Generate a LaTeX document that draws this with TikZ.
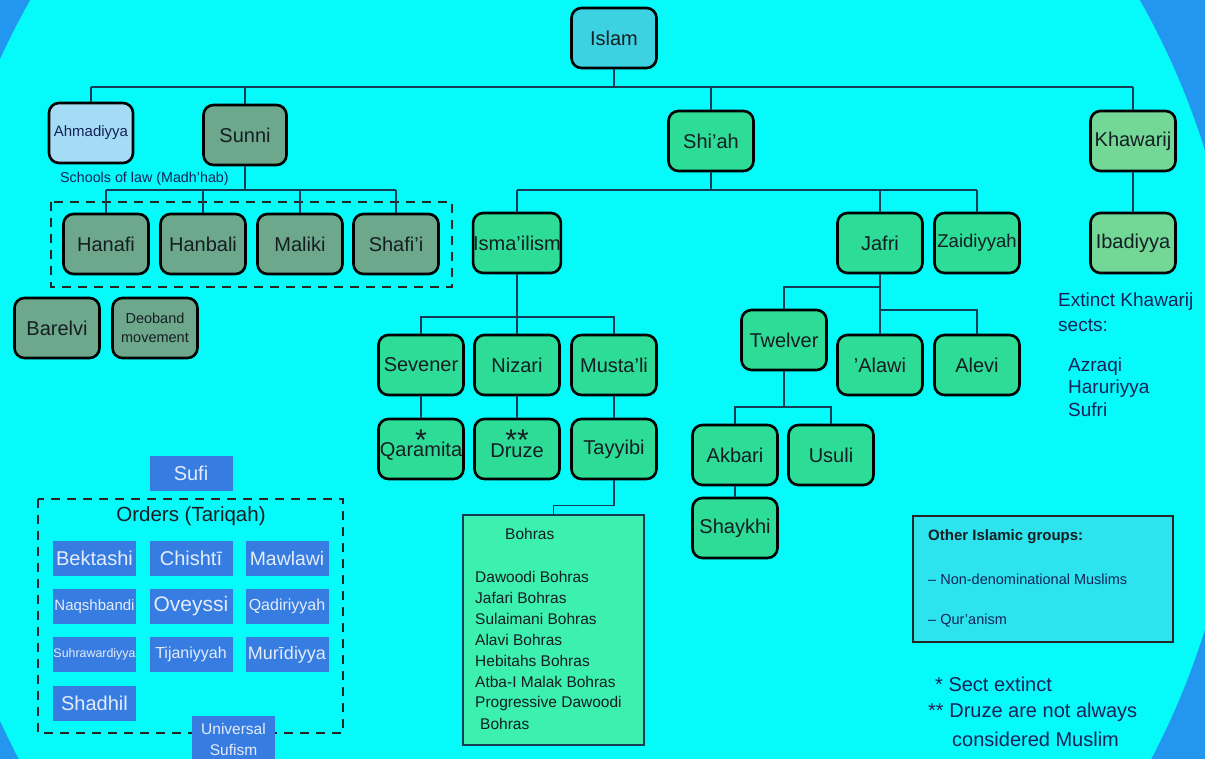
\documentclass[tikz,border=0pt]{standalone}
\usepackage{fontspec}
\setmainfont{Liberation Sans}
\definecolor{bgblue}{RGB}{35,150,240}
\definecolor{bgcyan}{RGB}{5,250,250}
\definecolor{islamfill}{RGB}{60,210,225}
\definecolor{ahmfill}{RGB}{165,220,245}
\definecolor{sunnifill}{RGB}{110,168,140}
\definecolor{shiafill}{RGB}{45,220,150}
\definecolor{khawfill}{RGB}{115,215,150}
\definecolor{sufiblue}{RGB}{55,125,225}
\definecolor{sufitext}{RGB}{228,236,252}
\definecolor{bohrafill}{RGB}{60,240,175}
\definecolor{otherfill}{RGB}{45,228,238}
\definecolor{txt}{RGB}{20,30,35}
\definecolor{navy}{RGB}{20,35,90}
\definecolor{connc}{RGB}{20,60,85}
\newcommand{\starglyph}[1]{\raisebox{-0.42em}[0.3em][0pt]{#1}}
\newcommand{\lowtext}[1]{\raisebox{-2pt}[\height][\depth]{#1}}
\begin{document}
\begin{tikzpicture}[x=1pt,y=-1pt,
  box/.style={draw=black, line width=2.6pt, rounded corners=10pt, minimum width=85pt, minimum height=60pt, inner sep=0pt, text=txt, font=\fontsize{20}{24}\selectfont},
  sunnibox/.style={box, fill=sunnifill},
  shiabox/.style={box, fill=shiafill},
  khawbox/.style={box, fill=khawfill},
  conn/.style={draw=connc, line width=1.3pt},
  dashbox/.style={draw=black!85, line width=2.6pt, dash pattern=on 9pt off 7pt},
  sufibox/.style={fill=sufiblue, minimum width=83pt, minimum height=35pt, inner sep=0pt, text=sufitext},
  note/.style={anchor=west, inner sep=0pt, text=navy},
  bohratext/.style={anchor=west, inner sep=0pt, text=txt, font=\fontsize{15.5}{18}\selectfont},
  star/.style={inner sep=0pt, text=txt, font=\fontsize{30}{30}\selectfont}
]
\useasboundingbox (0,0) rectangle (1205,759);
\fill[bgblue] (0,0) rectangle (1205,759);
\begin{scope}
\clip (0,0) rectangle (1205,759);
\fill[bgcyan] (585,390) ellipse [x radius=656pt, y radius=730pt];
\end{scope}

% bus coordinates
\coordinate (yIslam) at (0,87);
\coordinate (ySunni) at (0,190);
\coordinate (yShia) at (0,190);
\coordinate (yIsma) at (0,317);
\coordinate (yTw) at (0,287);
\coordinate (yAl) at (0,310);
\coordinate (yTwelve) at (0,407);

% nodes
\node[box, fill=islamfill] (islam) at (614,38) {Islam};
\node[box, fill=ahmfill, minimum width=84pt, text=navy, font=\fontsize{15}{18}\selectfont] (ahmadiyya) at (91,133) {Ahmadiyya};
\node[sunnibox, minimum width=83pt] (sunni) at (245,135) {Sunni};
\node[shiabox] (shiah) at (711,141) {Shi'ah};
\node[khawbox] (khawarij) at (1133,141) {Khawarij};

\node[note, font=\fontsize{14.3}{17}\selectfont] (schools) at (60,179) {Schools of law (Madh'hab)};
\draw[dashbox] (51,202) rectangle (452,287);
\node[sunnibox] (hanafi) at (106,244) {Hanafi};
\node[sunnibox] (hanbali) at (203,244) {Hanbali};
\node[sunnibox] (maliki) at (300,244) {Maliki};
\node[sunnibox] (shafii) at (396,244) {Shafi'i};
\node[sunnibox] (barelvi) at (57,328) {Barelvi};
\node[sunnibox, align=center, font=\fontsize{14.5}{19}\selectfont] (deoband) at (155,328) {Deoband\\movement};

\node[shiabox] (isma) at (517,243) {Isma'ilism};
\node[shiabox] (jafri) at (880,243) {Jafri};
\node[shiabox, font=\fontsize{18.5}{22}\selectfont] (zaid) at (977,243) {Zaidiyyah};
\node[khawbox] (ibadiyya) at (1133,243) {Ibadiyya};

\node[shiabox] (sevener) at (421,365) {Sevener};
\node[shiabox] (nizari) at (517,365) {Nizari};
\node[shiabox] (mustali) at (614,365) {Musta'li};
\node[shiabox] (qaramita) at (421,449) {\lowtext{Qaramita}};
\node[shiabox] (druze) at (517,449) {\lowtext{Druze}};
\node[shiabox] (tayyibi) at (614,449) {Tayyibi};
\node[star] (star1) at (421,433) {\starglyph{*}};
\node[star] (star2) at (517,433) {\starglyph{**}};

\node[shiabox] (twelver) at (784,340) {Twelver};
\node[shiabox] (alawi) at (880,365) {'Alawi};
\node[shiabox] (alevi) at (977,365) {Alevi};
\node[shiabox] (akbari) at (735,455) {Akbari};
\node[shiabox] (usuli) at (831,455) {Usuli};
\node[shiabox] (shaykhi) at (735,528) {Shaykhi};

% Bohras box
\node[draw=connc, line width=1.3pt, fill=bohrafill, minimum width=181pt, minimum height=230pt, inner sep=0pt] (bohras) at (553.5,630) {};
\node[bohratext] (bh0) at (505,534) {Bohras};
\node[bohratext] (bh1) at (475,577) {Dawoodi Bohras};
\node[bohratext] (bh2) at (475,598) {Jafari Bohras};
\node[bohratext] (bh3) at (475,619) {Sulaimani Bohras};
\node[bohratext] (bh4) at (475,640) {Alavi Bohras};
\node[bohratext] (bh5) at (475,661) {Hebitahs Bohras};
\node[bohratext] (bh6) at (475,682) {Atba-I Malak Bohras};
\node[bohratext] (bh7) at (475,703) {Progressive Dawoodi};
\node[bohratext] (bh8) at (480,724) {Bohras};

% Khawarij notes
\node[note, font=\fontsize{19}{22}\selectfont] (ext1) at (1058,302) {Extinct Khawarij};
\node[note, font=\fontsize{19}{22}\selectfont] (ext2) at (1058,325) {sects:};
\node[note, font=\fontsize{19}{22}\selectfont] (azraqi) at (1068,367) {Azraqi};
\node[note, font=\fontsize{19}{22}\selectfont] (haruriyya) at (1068,389) {Haruriyya};
\node[note, font=\fontsize{19}{22}\selectfont] (sufri) at (1068,410) {Sufri};

% Other groups box
\node[draw=black!85, line width=1.3pt, fill=otherfill, minimum width=260pt, minimum height=126pt, inner sep=0pt] (other) at (1043,579) {};
\node[anchor=west, inner sep=0pt, text=txt, font=\bfseries\fontsize{15}{18}\selectfont] (oth1) at (928,537) {Other Islamic groups:};
\node[anchor=west, inner sep=0pt, text=navy, font=\fontsize{14.5}{18}\selectfont] (oth2) at (928,579) {– Non-denominational Muslims};
\node[anchor=west, inner sep=0pt, text=navy, font=\fontsize{14.5}{18}\selectfont] (oth3) at (928,621) {– Qur'anism};

% footnotes
\node[note, font=\fontsize{20}{24}\selectfont] (fn1) at (935,684) {* Sect extinct};
\node[note, font=\fontsize{20}{24}\selectfont] (fn2) at (928,712) {** Druze are not always};
\node[note, font=\fontsize{20}{24}\selectfont] (fn3) at (952,739) {considered Muslim};

% Sufi
\node[sufibox, font=\fontsize{20}{24}\selectfont] (sufi) at (191,473) {Sufi};
\draw[dashbox] (38,499) rectangle (343,733);
\node[inner sep=0pt, text=txt, font=\fontsize{20.5}{24}\selectfont] (orders) at (191,516) {Orders (Tariqah)};
\node[sufibox, font=\fontsize{20}{24}\selectfont] (bektashi) at (94.5,558.5) {Bektashi};
\node[sufibox, font=\fontsize{20}{24}\selectfont] (chishti) at (191,558.5) {Chishtī};
\node[sufibox, font=\fontsize{19.4}{24}\selectfont] (mawlawi) at (287,558.5) {Mawlawi};
\node[sufibox, font=\fontsize{15}{18}\selectfont] (naqsh) at (94.5,606.5) {Naqshbandi};
\node[sufibox, font=\fontsize{21}{24}\selectfont] (oveyssi) at (191,606.5) {Oveyssi};
\node[sufibox, font=\fontsize{16}{18}\selectfont] (qadiri) at (287,606.5) {Qadiriyyah};
\node[sufibox, font=\fontsize{12.4}{15}\selectfont] (suhra) at (94.5,654.5) {Suhrawardiyya};
\node[sufibox, font=\fontsize{16}{18}\selectfont] (tijani) at (191,654.5) {Tijaniyyah};
\node[sufibox, font=\fontsize{18}{22}\selectfont] (muridi) at (287,654.5) {Murīdiyya};
\node[sufibox, font=\fontsize{20}{24}\selectfont] (shadhil) at (94.5,703.5) {Shadhil};
\node[sufibox, minimum height=46pt, align=center, font=\fontsize{15.5}{21}\selectfont] (universal) at (233.5,739) {Universal\\Sufism};

% connectors
\draw[conn] (islam.south) -- (islam.south |- yIslam);
\draw[conn] (ahmadiyya.north |- yIslam) -- (khawarij.north |- yIslam);
\draw[conn] (ahmadiyya.north) -- (ahmadiyya.north |- yIslam);
\draw[conn] (sunni.north) -- (sunni.north |- yIslam);
\draw[conn] (shiah.north) -- (shiah.north |- yIslam);
\draw[conn] (khawarij.north) -- (khawarij.north |- yIslam);

\draw[conn] (sunni.south) -- (sunni.south |- ySunni);
\draw[conn] (hanafi.north |- ySunni) -- (shafii.north |- ySunni);
\draw[conn] (hanafi.north) -- (hanafi.north |- ySunni);
\draw[conn] (hanbali.north) -- (hanbali.north |- ySunni);
\draw[conn] (maliki.north) -- (maliki.north |- ySunni);
\draw[conn] (shafii.north) -- (shafii.north |- ySunni);

\draw[conn] (shiah.south) -- (shiah.south |- yShia);
\draw[conn] (isma.north |- yShia) -- (zaid.north |- yShia);
\draw[conn] (isma.north) -- (isma.north |- yShia);
\draw[conn] (jafri.north) -- (jafri.north |- yShia);
\draw[conn] (zaid.north) -- (zaid.north |- yShia);
\draw[conn] (khawarij.south) -- (ibadiyya.north);

\draw[conn] (isma.south) -- (nizari.north);
\draw[conn] (sevener.north) |- (isma.south |- yIsma) -| (mustali.north);
\draw[conn] (sevener.south) -- (qaramita.north);
\draw[conn] (nizari.south) -- (druze.north);
\draw[conn] (mustali.south) -- (tayyibi.north);
\draw[conn] (tayyibi.south) -- ++(0,25) -| (bohras.north);

\draw[conn] (jafri.south) -- (alawi.north);
\draw[conn] (jafri.south |- yTw) -| (twelver.north);
\draw[conn] (jafri.south |- yAl) -| (alevi.north);
\draw[conn] (twelver.south) -- (twelver.south |- yTwelve);
\draw[conn] (akbari.north) |- (twelver.south |- yTwelve) -| (usuli.north);
\draw[conn] (akbari.south) -- (shaykhi.north);
\end{tikzpicture}
\end{document}
